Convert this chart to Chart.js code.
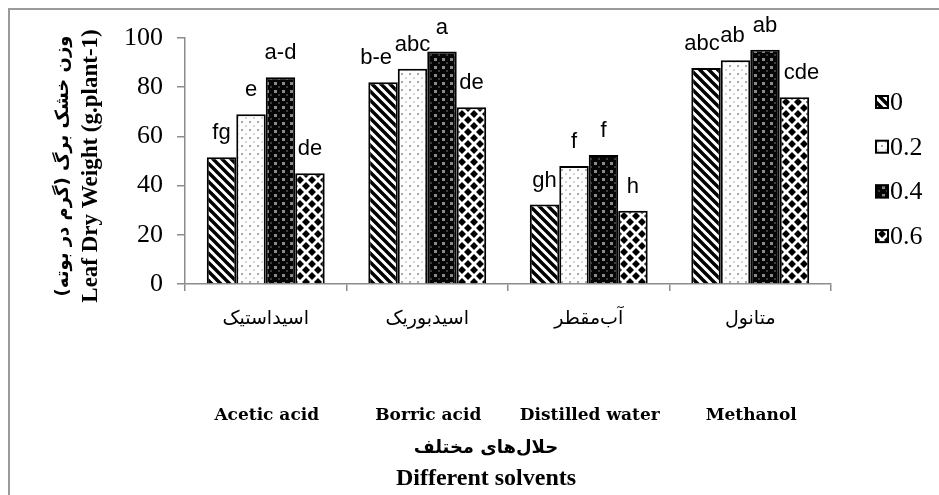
<!DOCTYPE html>
<html>
<head>
<meta charset="utf-8">
<script src="https://cdn.jsdelivr.net/npm/chart.js@4/dist/chart.umd.min.js"></script>
<style>
  html, body { margin: 0; padding: 0; background: #ffffff; }
  #wrap { width: 939px; height: 495px; }
</style>
</head>
<body>
<div id="wrap"><canvas id="chart" width="939" height="495"></canvas></div>
<script>
// Solvent categories (Persian axis labels and English captions)
const solventsFa = ['اسیداستیک', 'اسیدبوریک', 'آب‌مقطر', 'متانول'];
const solventsEn = ['Acetic acid', 'Borric acid', 'Distilled water', 'Methanol'];

// Concentration levels (legend)
const levels = ['0', '0.2', '0.4', '0.6'];

// Leaf dry weight (g.plant-1) per concentration level
const weight0  = [51.5, 82.0, 32.3, 87.8];
const weight02 = [69.0, 87.5, 48.0, 91.0];
const weight04 = [84.0, 94.5, 52.4, 95.2];
const weight06 = [45.0, 71.8, 29.8, 75.9];

// Mean-separation letters shown above each bar
const letters0  = ['fg', 'b-e', 'gh', 'abc'];
const letters02 = ['e', 'abc', 'f', 'ab'];
const letters04 = ['a-d', 'a', 'f', 'ab'];
const letters06 = ['de', 'de', 'h', 'cde'];

// Y axis ticks
const yTicks = [0, 20, 40, 60, 80, 100];

const yTitleFa = 'وزن خشک برگ (گرم در بوته)';
const yTitleEn = 'Leaf Dry Weight (g.plant-1)';
const xTitleFa = 'حلال‌های مختلف';
const xTitleEn = 'Different solvents';

// ---- fill patterns -------------------------------------------------------
function makeTile(w, h, paint) {
  const c = document.createElement('canvas');
  c.width = w; c.height = h;
  const g = c.getContext('2d');
  paint(g, w, h);
  return document.createElement('canvas').getContext('2d').createPattern(c, 'repeat');
}

// diagonal "\" stripes
const patStripes = makeTile(9, 9, (g, w, h) => {
  g.fillStyle = '#fff'; g.fillRect(0, 0, w, h);
  g.strokeStyle = '#000'; g.lineWidth = 3.4;
  g.beginPath();
  g.moveTo(-w, -h); g.lineTo(2 * w, 2 * h);
  g.moveTo(-w, 0); g.lineTo(w, 2 * h);
  g.moveTo(0, -h); g.lineTo(2 * w, h);
  g.stroke();
});

// white with light grey dots
const patLightDots = makeTile(8, 8, (g, w, h) => {
  g.fillStyle = '#fdfdfd'; g.fillRect(0, 0, w, h);
  g.fillStyle = '#a8a8a8';
  g.fillRect(1, 1, 2, 2);
  g.fillStyle = '#d4d4d4';
  g.fillRect(5, 5, 2, 2);
});

// black with grey dots
const patDarkDots = makeTile(8, 8, (g, w, h) => {
  g.fillStyle = '#050505'; g.fillRect(0, 0, w, h);
  g.fillStyle = '#8a8a8a';
  g.fillRect(2, 2, 3, 3);
  g.fillStyle = '#3a3a3a';
  g.fillRect(6, 6, 2, 2);
});

// white with black diamonds
const patDiamonds = makeTile(12, 12, (g, w, h) => {
  g.fillStyle = '#fff'; g.fillRect(0, 0, w, h);
  g.fillStyle = '#000';
  const r = 4;
  const pts = [[w / 2, h / 2], [0, 0], [w, 0], [0, h], [w, h]];
  pts.forEach(([x, y]) => {
    g.beginPath();
    g.moveTo(x, y - r); g.lineTo(x + r, y); g.lineTo(x, y + r); g.lineTo(x - r, y);
    g.closePath(); g.fill();
  });
});

const patterns = [patStripes, patLightDots, patDarkDots, patDiamonds];
const seriesValues = [weight0, weight02, weight04, weight06];
const seriesLetters = [letters0, letters02, letters04, letters06];

// ---- plugins -------------------------------------------------------------
const framePlugin = {
  id: 'frame',
  beforeDraw(chart) {
    const ctx = chart.ctx;
    ctx.save();
    ctx.strokeStyle = '#9a9a9a';
    ctx.lineWidth = 2;
    ctx.beginPath();
    ctx.moveTo(9, chart.height);
    ctx.lineTo(9, 9);
    ctx.lineTo(chart.width, 9);
    ctx.stroke();
    ctx.restore();
  }
};

// letters above bars; crowded ones are nudged sideways so they don't collide
const lettersPlugin = {
  id: 'letters',
  afterDatasetsDraw(chart, args, opts) {
    const ctx = chart.ctx;
    const nudge = opts.nudge || {};
    ctx.save();
    ctx.font = '22px "Liberation Sans", Arial, sans-serif';
    ctx.fillStyle = '#000';
    ctx.textAlign = 'center';
    ctx.textBaseline = 'alphabetic';
    chart.data.datasets.forEach((ds, di) => {
      const meta = chart.getDatasetMeta(di);
      meta.data.forEach((bar, i) => {
        const dx = nudge[di + ':' + i] || 0;
        ctx.fillText(seriesLetters[di][i], bar.x + dx, bar.y - 18);
      });
    });
    ctx.restore();
  }
};

const legendPlugin = {
  id: 'patternLegend',
  afterDraw(chart) {
    const ctx = chart.ctx;
    const area = chart.chartArea;
    const bx = area.right + 44;
    ctx.save();
    ctx.font = '26px "Liberation Serif", "Times New Roman", serif';
    ctx.textBaseline = 'middle';
    ctx.textAlign = 'left';
    levels.forEach((lv, i) => {
      const cy = area.top + 64 + i * 44.7;
      ctx.fillStyle = patterns[i];
      ctx.fillRect(bx, cy - 7, 14, 14);
      ctx.strokeStyle = '#000';
      ctx.lineWidth = 2;
      ctx.strokeRect(bx + 1, cy - 6, 12, 12);
      ctx.fillStyle = '#000';
      ctx.fillText(lv, bx + 15, cy + 1);
    });
    ctx.restore();
  }
};

const captionsPlugin = {
  id: 'captions',
  afterDraw(chart) {
    const ctx = chart.ctx;
    const area = chart.chartArea;
    const xs = chart.scales.x;
    ctx.save();
    ctx.fillStyle = '#000';
    ctx.textAlign = 'center';
    ctx.textBaseline = 'middle';

    // English category captions
    ctx.font = 'bold 17px "DejaVu Serif", serif';
    solventsEn.forEach((t, i) => {
      ctx.fillText(t, xs.getPixelForTick(i) + 1, area.bottom + 132);
    });

    // X axis titles
    const cx = (area.left + area.right) / 2 - 22;
    ctx.direction = 'rtl';
    ctx.font = 'bold 18px "DejaVu Sans", sans-serif';
    ctx.fillText(xTitleFa, cx, area.bottom + 164);
    ctx.direction = 'ltr';
    ctx.font = 'bold 24px "Liberation Serif", "Times New Roman", serif';
    ctx.fillText(xTitleEn, cx, area.bottom + 195);

    // Y axis titles (rotated)
    const cy = (area.top + area.bottom) / 2 + 5;
    ctx.translate(0, cy);
    ctx.rotate(-Math.PI / 2);
    ctx.direction = 'rtl';
    ctx.font = 'bold 18px "DejaVu Sans", sans-serif';
    ctx.fillText(yTitleFa, 0, 63);
    ctx.direction = 'ltr';
    ctx.font = 'bold 23px "Liberation Serif", "Times New Roman", serif';
    ctx.fillText(yTitleEn, 0, 91);
    ctx.restore();
  }
};

// ---- chart ---------------------------------------------------------------
new Chart(document.getElementById('chart'), {
  type: 'bar',
  data: {
    labels: solventsFa,
    datasets: levels.map((lv, i) => ({
      label: lv,
      data: seriesValues[i],
      backgroundColor: patterns[i],
      borderColor: '#000',
      borderWidth: 2,
      borderSkipped: 'bottom',
      barPercentage: 1.0,
      categoryPercentage: 0.73
    }))
  },
  options: {
    responsive: false,
    animation: false,
    devicePixelRatio: 1,
    layout: { padding: { left: 0, right: 108, top: 38, bottom: 0 } },
    plugins: {
      legend: { display: false },
      tooltip: { enabled: false },
      letters: { nudge: { '0:1': -7, '0:3': -4, '1:3': -3, '3:3': 7 } }
    },
    scales: {
      x: {
        afterFit(scale) { scale.height = 211; },
        grid: { drawOnChartArea: false, tickLength: 7, color: '#8c8c8c', lineWidth: 1.5 },
        border: { color: '#8c8c8c', width: 1.5 },
        ticks: {
          color: '#000',
          padding: 17,
          maxRotation: 0,
          font: { family: '"DejaVu Sans", sans-serif', size: 19 }
        }
      },
      y: {
        min: 0,
        max: 100,
        afterFit(scale) { scale.width = 185; },
        afterBuildTicks(scale) { scale.ticks = yTicks.map(v => ({ value: v })); },
        grid: { drawOnChartArea: false, tickLength: 8, color: '#8c8c8c', lineWidth: 1.5 },
        border: { color: '#8c8c8c', width: 1.5 },
        ticks: {
          color: '#000',
          padding: 14,
          font: { family: '"Liberation Serif", "Times New Roman", serif', size: 26 }
        }
      }
    }
  },
  plugins: [framePlugin, lettersPlugin, legendPlugin, captionsPlugin]
});
</script>
</body>
</html>
